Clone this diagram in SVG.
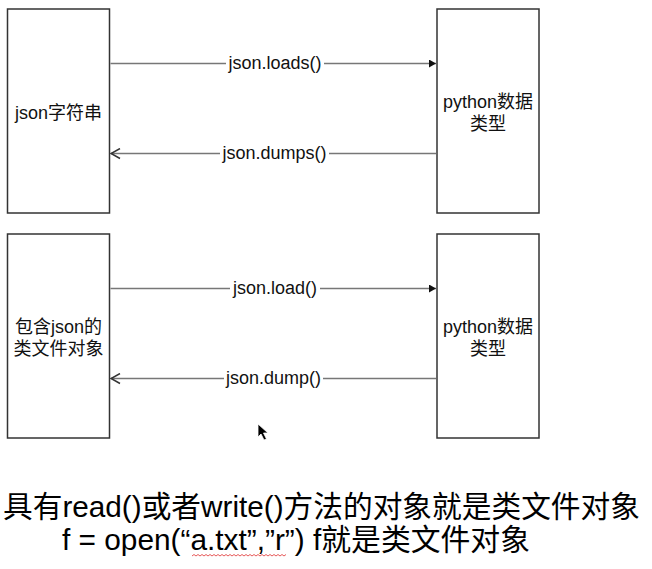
<svg xmlns="http://www.w3.org/2000/svg" width="652" height="569" viewBox="0 0 652 569">
<style>
.box{fill:#fff;stroke:#333;stroke-width:1.5}
.lbl{font-family:"Liberation Sans","Noto Sans CJK SC",sans-serif;font-size:18px;fill:#111;text-anchor:middle}
.edge{stroke:#777;stroke-width:1.3;fill:none}
.elbl{font-family:"Liberation Sans",sans-serif;font-size:18px;fill:#111;text-anchor:middle}
.note{font-family:"Liberation Sans","Noto Sans CJK SC",sans-serif;font-size:30px;fill:#000}
</style>
<defs>
<marker id="tri" markerWidth="8" markerHeight="8" refX="7" refY="4" orient="auto" markerUnits="userSpaceOnUse">
<path d="M0,0 L7,4 L0,8 Z" fill="#111"/>
</marker>
<marker id="open" markerWidth="12" markerHeight="12" refX="1" refY="6" orient="auto" markerUnits="userSpaceOnUse">
<path d="M10,1 L1,6 L10,11" fill="none" stroke="#333" stroke-width="1.5"/>
</marker>
</defs>
<rect width="652" height="569" fill="#fff"/>
<g id="json-string">
<rect class="box" x="7.5" y="9" width="102" height="204"/>
<text class="lbl" x="58.5" y="119">json字符串</text>
</g>
<g id="python-type-1">
<rect class="box" x="437" y="9" width="102" height="204"/>
<text class="lbl" x="488" y="108">python数据</text>
<text class="lbl" x="488" y="130">类型</text>
</g>
<g id="file-like">
<rect class="box" x="7.5" y="234" width="102" height="204"/>
<text class="lbl" x="58.5" y="333">包含json的</text>
<text class="lbl" x="58.5" y="355">类文件对象</text>
</g>
<g id="python-type-2">
<rect class="box" x="437" y="234" width="102" height="204"/>
<text class="lbl" x="488" y="333">python数据</text>
<text class="lbl" x="488" y="355">类型</text>
</g>
<g id="connectors">
<line class="edge" x1="110.5" y1="63.5" x2="226" y2="63.5"/>
<line class="edge" x1="324" y1="63.5" x2="436" y2="63.5" marker-end="url(#tri)"/>
<text class="elbl" x="275" y="69">json.loads()</text>
<line class="edge" x1="111" y1="153.5" x2="220" y2="153.5" marker-start="url(#open)"/>
<line class="edge" x1="329" y1="153.5" x2="436" y2="153.5"/>
<text class="elbl" x="274.5" y="159">json.dumps()</text>
<line class="edge" x1="110.5" y1="288.5" x2="230" y2="288.5"/>
<line class="edge" x1="320" y1="288.5" x2="436" y2="288.5" marker-end="url(#tri)"/>
<text class="elbl" x="275" y="294">json.load()</text>
<line class="edge" x1="111" y1="378.5" x2="224" y2="378.5" marker-start="url(#open)"/>
<line class="edge" x1="323" y1="378.5" x2="436" y2="378.5"/>
<text class="elbl" x="273.5" y="384">json.dump()</text>
</g>
<path d="M258,424 L258,437 L261,434 L264,440 L266.5,439 L263.5,433 L268,433 Z" fill="#000" stroke="#fff" stroke-width="0.8"/>
<text class="note" x="3" y="517" textLength="637" lengthAdjust="spacingAndGlyphs">具有read()或者write()方法的对象就是类文件对象</text>
<text class="note" x="62" y="550" textLength="468" lengthAdjust="spacingAndGlyphs">f = open(“a.txt”,”r”) f就是类文件对象</text>
<path d="M192,556 l2,-1.5 l2,1.5 l2,-1.5 l2,1.5 l2,-1.5 l2,1.5 l2,-1.5 l2,1.5 l2,-1.5 l2,1.5 l2,-1.5 l2,1.5 l2,-1.5 l2,1.5 l2,-1.5 l2,1.5 l2,-1.5 l2,1.5 l2,-1.5 l2,1.5 l2,-1.5 l2,1.5 l2,-1.5 l2,1.5 l2,-1.5 l2,1.5 l2,-1.5 l2,1.5 l2,-1.5 l2,1.5 l2,-1.5 l2,1.5 l2,-1.5 l2,1.5 l2,-1.5 l2,1.5 l2,-1.5 l2,1.5 l2,-1.5 l2,1.5 l2,-1.5 l2,1.5 l2,-1.5 l2,1.5 l2,-1.5 l2,1.5 l2,-1.5" fill="none" stroke="#e03030" stroke-width="0.8"/>
</svg>
